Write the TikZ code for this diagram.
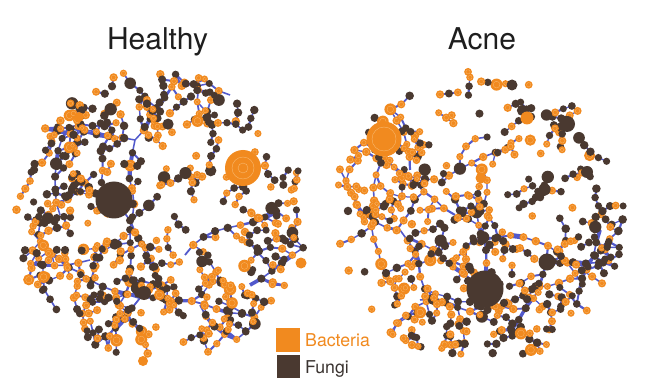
\documentclass[tikz,border=0pt]{standalone}
\usepackage{fontspec}
\setmainfont{TeX Gyre Heros}
\definecolor{bact}{HTML}{F18A1F}
\definecolor{fung}{HTML}{4A3930}
\definecolor{edgeblue}{HTML}{5259CC}
\definecolor{ringc}{HTML}{F8B86E}
\definecolor{titlec}{HTML}{1E1E1E}
\definecolor{fungtext}{HTML}{3A3330}

\newif\ifdotpass
\newcommand\Xc{0}\newcommand\Yc{0}\newcommand\Rc{0}
\newcommand\PoA{0.5}\newcommand\PoB{0}

% one network dot
\newcommand\netdot[3]{%
  \pgfmathsetmacro\Po{\PoA+\PoB*(#1)}%
  \pgfmathtruncatemacro\Isor{rnd<\Po}%
  \pgfmathsetmacro\Dr{3.5+rnd*0.8+(rnd<0.05)*2.0+#3}%
  \pgfmathsetmacro\Drr{0.55*\Dr}%
  \ifdotpass
  \ifnum\Isor=1
    \fill[bact] (#1,#2) circle[radius=\Dr];
    \draw[ringc, line width=0.3pt] (#1,#2) circle[radius=\Drr];
  \else
    \fill[fung] (#1,#2) circle[radius=\Dr];
  \fi
  \fi}

\newcommand\netedge[5]{%
  \ifdotpass\else
    \draw[edgeblue, line width=#5pt] (#1,#2) -- (#3,#4);
  \fi}

% one random step, kept inside the disc
\newcommand\stepfrom[4]{%
  \pgfmathsetmacro\Na{#3}%
  \pgfmathsetmacro\Nx{#1+#4*cos(\Na)}%
  \pgfmathsetmacro\Ny{#2+#4*sin(\Na)}%
  \pgfmathsetmacro\Qd{veclen(\Nx-\Xc,\Ny-\Yc)}%
  \ifdim\Qd pt>\Rc pt
    \pgfmathsetmacro\Na{atan2(\Yc-(#2),\Xc-(#1))+(rnd-0.5)*80}%
    \pgfmathsetmacro\Nx{#1+#4*cos(\Na)}%
    \pgfmathsetmacro\Ny{#2+#4*sin(\Na)}%
  \fi}

% short side chain: x y angle n steplength
\newcommand\sidechain[5]{%
  \xdef\Sx{#1}\xdef\Sy{#2}\xdef\Sa{#3}%
  \foreach \j in {1,...,#4}{%
    \stepfrom{\Sx}{\Sy}{\Sa+(rnd-0.5)*70}{#5}%
    \pgfmathsetmacro\Lw{1.2+1.0*rnd}%
    \netedge{\Sx}{\Sy}{\Nx}{\Ny}{\Lw}%
    \xdef\Sx{\Nx}\xdef\Sy{\Ny}\xdef\Sa{\Na}%
    \netdot{\Sx}{\Sy}{0}%
  }}

% long branching trunk
\newcommand\trunk[5]{%
  \xdef\Cx{#1}\xdef\Cy{#2}\xdef\Ca{#3}%
  \foreach \i in {1,...,#4}{%
    \stepfrom{\Cx}{\Cy}{\Ca+(rnd-0.5)*36}{#5}%
    \pgfmathsetmacro\Lw{1.5+3.8*rnd^4}%
    \netedge{\Cx}{\Cy}{\Nx}{\Ny}{\Lw}%
    \xdef\Cx{\Nx}\xdef\Cy{\Ny}\xdef\Ca{\Na}%
    \netdot{\Cx}{\Cy}{0}%
    \pgfmathtruncatemacro\Dobr{rnd<0.6}%
    \ifnum\Dobr=1
      \pgfmathsetmacro\Ba{\Ca+((rnd<0.5)?1:-1)*(50+rnd*40)}%
      \pgfmathtruncatemacro\Bn{1+rnd*4}%
      \sidechain{\Cx}{\Cy}{\Ba}{\Bn}{12}%
    \fi
  }}

% small peripheral components
\newcommand\periph[1]{%
  \foreach \q in {1,...,#1}{%
    \pgfmathsetmacro\Qr{(\Rc-2)*rnd^0.4}%
    \pgfmathsetmacro\Qt{rnd*360}%
    \pgfmathsetmacro\Qx{\Xc+\Qr*cos(\Qt)}%
    \pgfmathsetmacro\Qy{\Yc+\Qr*sin(\Qt)}%
    \netdot{\Qx}{\Qy}{0}%
    \pgfmathtruncatemacro\Qn{rnd*4}%
    \ifnum\Qn>0 \sidechain{\Qx}{\Qy}{\Qt+180+(rnd-0.5)*140}{\Qn}{9}\fi
  }}

\newcommand\makenets{%
  % ---------------- Healthy ----------------
  \renewcommand\Xc{160}\renewcommand\Yc{215}\renewcommand\Rc{148}%
  \renewcommand\PoA{0.53}\renewcommand\PoB{0}%
  \trunk{135}{140}{90}{13}{13}%
  \trunk{135}{140}{195}{9}{13}%
  \trunk{135}{140}{320}{7}{13}%
  \trunk{140}{298}{185}{10}{13}%
  \trunk{140}{298}{5}{12}{13}%
  \trunk{185}{255}{295}{8}{13}%
  \trunk{140}{298}{115}{5}{13}%
  \trunk{250}{285}{330}{6}{13}%
  \trunk{60}{215}{260}{7}{13}%
  \trunk{200}{305}{70}{5}{13}%
  \trunk{114}{200}{60}{8}{13}%
  \trunk{230}{95}{200}{6}{12}%
  \trunk{90}{260}{150}{6}{12}%
  \periph{150}%
  % ---------------- Acne ----------------
  \renewcommand\Xc{479}\renewcommand\Yc{217}\renewcommand\Rc{148}%
  \renewcommand\PoA{1.576}\renewcommand\PoB{-0.0022}%
  \trunk{485}{289}{270}{8}{13}%
  \trunk{485}{240}{345}{9}{13}%
  \trunk{400}{230}{180}{7}{13}%
  \trunk{400}{230}{70}{7}{13}%
  \trunk{410}{170}{265}{6}{13}%
  \trunk{455}{215}{205}{9}{13}%
  \trunk{547}{262}{20}{7}{13}%
  \trunk{547}{262}{100}{6}{13}%
  \trunk{420}{300}{0}{6}{13}%
  \trunk{383}{150}{95}{10}{13}%
  \trunk{600}{230}{90}{6}{13}%
  \trunk{440}{185}{300}{6}{13}%
  \trunk{485}{289}{200}{7}{13}%
  \periph{150}%
}

\begin{document}
\begin{tikzpicture}[x=1pt,y=-1pt,
  bignode/.style={circle, inner sep=0pt, draw=none},
  titletext/.style={font=\fontsize{30}{36}\selectfont, text=titlec, anchor=base, inner sep=0pt},
  legtext/.style={font=\fontsize{17.7}{21}\selectfont, anchor=base west, inner sep=0pt}]
\useasboundingbox (0,0) rectangle (671,379);
\fill[white] (0,0) rectangle (671,379);

% pass 1: edges, pass 2: dots (same random sequence)
\dotpassfalse
\pgfmathsetseed{4711}
\makenets
\dotpasstrue
\pgfmathsetseed{4711}
\makenets

% ---------------- hubs ----------------
\node[bignode, fill=fung, minimum size=37pt] (hHub) at (114,200) {};
\node[bignode, fill=bact, minimum size=36pt] (hOr) at (243,168) {};
\draw[ringc, line width=0.4pt] (hOr) circle[radius=11];
\draw[ringc, line width=0.4pt] (hOr) circle[radius=5];
\node[bignode, fill=fung, minimum size=14pt] (hMid) at (144,293) {};
\node[bignode, fill=bact, minimum size=11pt] (hO2) at (301,263) {};
\node[bignode, fill=bact, minimum size=10pt] (hO3) at (143,361) {};
\node[bignode, fill=bact, minimum size=10pt] (hO4) at (79,117) {};

\node[bignode, fill=bact, minimum size=35pt] (aOr) at (384,139) {};
\draw[ringc, line width=0.4pt] (aOr) circle[radius=12];
\node[bignode, fill=fung, minimum size=37pt] (aHub) at (485,289) {};
\node[bignode, fill=fung, minimum size=17pt] (aM1) at (547,262) {};
\node[bignode, fill=fung, minimum size=16pt] (aM2) at (567,124) {};
\node[bignode, fill=fung, minimum size=12pt] (aM3) at (587,172) {};
\node[bignode, fill=bact, minimum size=13pt] (aO2) at (527,118) {};
\node[bignode, fill=bact, minimum size=11pt] (aO3) at (481,178) {};
\node[bignode, fill=fung, minimum size=11pt] (aM4) at (512,85) {};

% ---------------- titles ----------------
\node[titletext] (tH) at (157.5,50) {Healthy};
\node[titletext] (tA) at (482,50) {Acne};

% ---------------- legend ----------------
\fill[white] (272,324) rectangle (375,379);
\node[fill=bact, minimum size=24pt, inner sep=0pt] (lb) at (288,339.5) {};
\node[fill=fung, minimum size=23pt, inner sep=0pt] (lf) at (288,366.5) {};
\node[legtext, text=bact] (lbt) at (305,346) {Bacteria};
\node[legtext, text=fungtext] (lft) at (305,373) {Fungi};
\end{tikzpicture}
\end{document}
